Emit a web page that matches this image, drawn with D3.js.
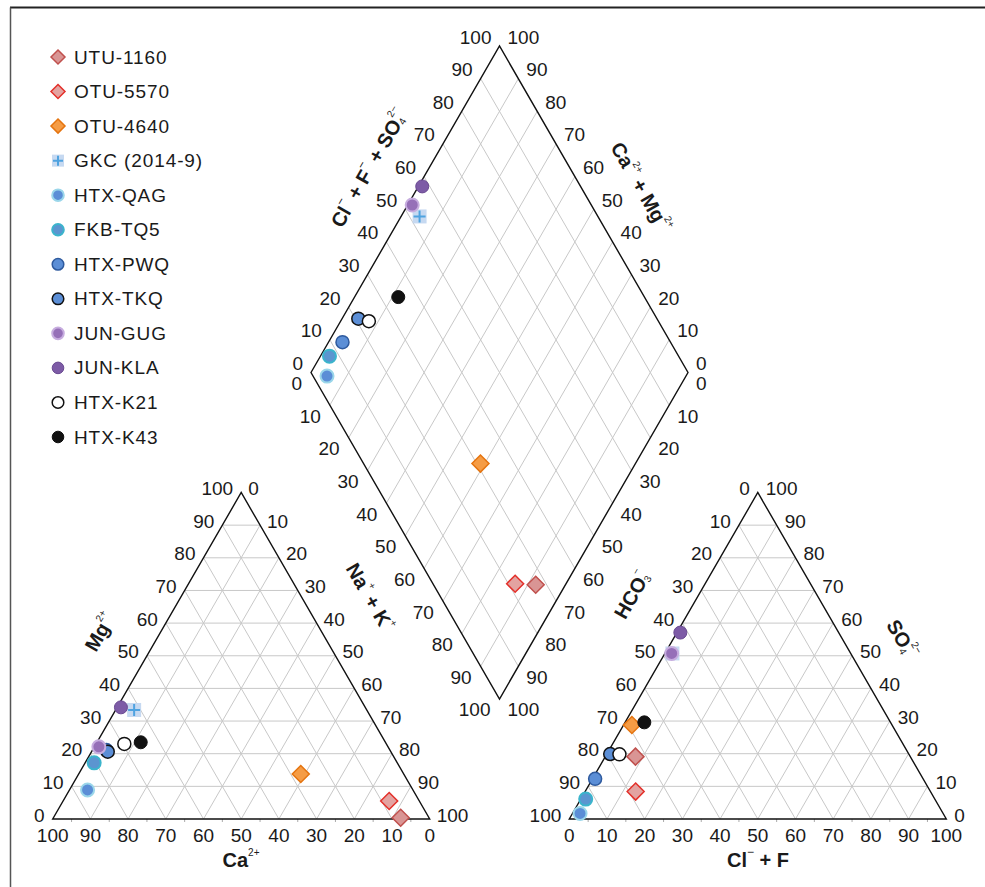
<!DOCTYPE html>
<html>
<head>
<meta charset="utf-8">
<script src="https://cdn.jsdelivr.net/npm/d3@7"></script>
<style>
  body { margin: 0; background: #fff; }
  text { font-family: "Liberation Sans", Arial, sans-serif; fill: #1a1a1a; }
</style>
</head>
<body>
<svg width="985" height="887"></svg>
<script>
// sample names (legend order = draw order)
const samples = ['UTU-1160', 'OTU-5570', 'OTU-4640', 'GKC (2014-9)', 'HTX-QAG', 'FKB-TQ5',
    'HTX-PWQ', 'HTX-TKQ', 'JUN-GUG', 'JUN-KLA', 'HTX-K21', 'HTX-K43']

// cations, % meq (Ca = 100 - Mg - Na+K)
const mgPct  = [0.4, 5.5, 13.8, 33.4, 8.9, 17.2, 21.1, 20.6, 22.1, 34.2, 23.0, 23.5]
const naKPct = [92.1, 86.5, 58.9, 4.9, 4.8, 2.4, 3.7, 4.3, 1.2, 1.0, 7.5, 11.6]

// anions, % meq (HCO3 = 100 - SO4 - Cl+F)
const so4Pct = [19.1, 8.4, 28.8, 50.7, 1.7, 6.1, 12.3, 19.9, 50.7, 57.1, 19.8, 29.6]
const clFPct = [8.0, 13.4, 2.2, 2.0, 2.0, 1.3, 0.7, 0.9, 1.8, 0.9, 3.4, 5.1]

const tickValues = d3.range(0, 101, 10)
const gridValues = d3.range(10, 100, 10)
const minorValues = d3.range(5, 100, 10)

const markerStyle = {
    'UTU-1160':     { shape: 'diamond', fill: '#d99594', stroke: '#c0504d', sw: 1.5 },
    'OTU-5570':     { shape: 'diamond', fill: '#e3a3a1', stroke: '#e3302a', sw: 1.5 },
    'OTU-4640':     { shape: 'diamond', fill: '#f59c45', stroke: '#e5740f', sw: 1.5 },
    'GKC (2014-9)': { shape: 'plus',    fill: '#c6d9f1', stroke: '#4fa3e0', sw: 2 },
    'HTX-QAG':      { shape: 'circle',  fill: '#5b8ed6', stroke: '#9ad6ea', sw: 2 },
    'FKB-TQ5':      { shape: 'circle',  fill: '#5b95d0', stroke: '#3bb4cc', sw: 2 },
    'HTX-PWQ':      { shape: 'circle',  fill: '#5b8ed6', stroke: '#2e5a9e', sw: 1.5 },
    'HTX-TKQ':      { shape: 'circle',  fill: '#5b8ed6', stroke: '#111111', sw: 1.5 },
    'JUN-GUG':      { shape: 'circle',  fill: '#9670b8', stroke: '#c7addf', sw: 2 },
    'JUN-KLA':      { shape: 'circle',  fill: '#7d5ba6', stroke: '#6a4a92', sw: 1 },
    'HTX-K21':      { shape: 'circle',  fill: '#ffffff', stroke: '#111111', sw: 1.5 },
    'HTX-K43':      { shape: 'circle',  fill: '#111111', stroke: '#111111', sw: 1 }
}

const svg = d3.select('svg')

const SIDE = 377
const H = SIDE * Math.sqrt(3) / 2
const leftOrigin = { x: 52.7, y: 819 }
const rightOrigin = { x: 569.3, y: 819 }
const diaOrigin = { x: 311, y: 372.5 }

const frac = d3.scaleLinear().domain([0, 100]).range([0, 1])

// ternary and diamond projections
const cationXY = (mg, nak) => [
    leftOrigin.x + frac(nak) * SIDE + frac(mg) * SIDE / 2,
    leftOrigin.y - frac(mg) * H
]
const anionXY = (so4, cl) => [
    rightOrigin.x + frac(cl) * SIDE + frac(so4) * SIDE / 2,
    rightOrigin.y - frac(so4) * H
]
const diamondXY = (a, c) => [
    diaOrigin.x + (frac(a) + frac(c)) * SIDE / 2,
    diaOrigin.y - frac(a) * H + frac(c) * H
]

const line = d3.line()

// frame
svg.append('line').attr('x1', 10).attr('x2', 985).attr('y1', 7.5).attr('y2', 7.5)
    .attr('stroke', '#222').attr('stroke-width', 2)
svg.append('line').attr('x1', 10.5).attr('x2', 10.5).attr('y1', 7.5).attr('y2', 887)
    .attr('stroke', '#555').attr('stroke-width', 1.5)

const grid = svg.append('g').attr('stroke', '#c8c8c8').attr('stroke-width', 1).attr('fill', 'none')

// triangle grids
const triGrid = (proj) => {
    gridValues.forEach(v => {
        grid.append('path').attr('d', line([proj(v, 0), proj(v, 100 - v)]))
        grid.append('path').attr('d', line([proj(0, v), proj(100 - v, v)]))
        grid.append('path').attr('d', line([proj(0, 100 - v), proj(100 - v, 0)]))
    })
}
triGrid(cationXY)
triGrid(anionXY)

// diamond grid
gridValues.forEach(v => {
    grid.append('path').attr('d', line([diamondXY(v, 0), diamondXY(v, 100)]))
    grid.append('path').attr('d', line([diamondXY(0, v), diamondXY(100, v)]))
})

// minor ticks on bases
const ticks = svg.append('g').attr('stroke', '#aaa').attr('stroke-width', 1)
minorValues.forEach(v => {
    ;[cationXY(0, v), anionXY(0, v)].forEach(p => {
        ticks.append('line').attr('x1', p[0]).attr('x2', p[0]).attr('y1', p[1]).attr('y2', p[1] + 3)
    })
})

// outlines
const outline = svg.append('g').attr('stroke', '#111').attr('stroke-width', 1.4).attr('fill', 'none')
outline.append('path').attr('d', line([cationXY(0, 0), cationXY(0, 100), cationXY(100, 0)]) + 'Z')
outline.append('path').attr('d', line([anionXY(0, 0), anionXY(0, 100), anionXY(100, 0)]) + 'Z')
outline.append('path').attr('d', line([diamondXY(0, 0), diamondXY(100, 0), diamondXY(100, 100), diamondXY(0, 100)]) + 'Z')

// tick labels
const labels = svg.append('g').attr('font-size', 19)
const edgeLabels = (posFn, anchor, dx, dy) => {
    tickValues.forEach(v => {
        const p = posFn(v)
        labels.append('text')
            .attr('x', p[0] + dx).attr('y', p[1] + dy)
            .attr('text-anchor', anchor)
            .attr('dominant-baseline', 'central')
            .text(v)
    })
}
// left triangle
edgeLabels(v => cationXY(0, 100 - v), 'middle', 0, 16)     // Ca
edgeLabels(v => cationXY(v, 0), 'end', -8, -4)              // Mg
edgeLabels(v => cationXY(100 - v, v), 'start', 7, -4)       // Na+K
// right triangle
edgeLabels(v => anionXY(0, v), 'middle', 0, 16)             // Cl+F
edgeLabels(v => anionXY(100 - v, 0), 'end', -8, -4)         // HCO3
edgeLabels(v => anionXY(v, 100 - v), 'start', 8, -4)        // SO4
// diamond
edgeLabels(v => diamondXY(v, 0), 'end', -8, -9)             // Cl+F+SO4
edgeLabels(v => diamondXY(100, 100 - v), 'start', 8, -9)    // Ca+Mg
edgeLabels(v => diamondXY(0, v), 'end', -9, 11)             // Na+K
edgeLabels(v => diamondXY(100 - v, 100), 'start', 8, 11)    // HCO3

// axis titles
const titles = svg.append('g').attr('font-size', 20).attr('font-weight', 'bold')
const title = (x, y, rot, parts) => {
    const t = titles.append('text')
        .attr('transform', `translate(${x},${y}) rotate(${rot})`)
        .attr('text-anchor', 'middle')
        .attr('dominant-baseline', 'central')
    parts.forEach(p => {
        const s = t.append('tspan').text(p.t)
        if (p.fs) s.attr('font-size', p.fs).attr('font-weight', 'normal')
        if (p.dy) s.attr('dy', p.dy)
        if (p.dx) s.attr('dx', p.dx)
    })
}
title(241, 860, 0, [{ t: 'Ca' }, { t: '2+', fs: 10, dy: -8 }])
title(758, 860, 0, [{ t: 'Cl' }, { t: '−', fs: 12, dy: -8 }, { t: ' + F', dy: 8 }])
title(100, 632, -60, [{ t: 'Mg' }, { t: '2+', fs: 10, dy: -8 }])
title(370, 597, 60, [{ t: 'Na' }, { t: '+', fs: 10, dy: -8 }, { t: ' + K', dy: 8 }, { t: '+', fs: 10, dy: -8 }])
title(632, 595, -60, [{ t: 'HCO' }, { t: '3', fs: 10, dy: 5 }, { t: '−', fs: 10, dx: -5, dy: -14 }])
title(902, 639, 60, [{ t: 'SO' }, { t: '4', fs: 10, dy: 5 }, { t: '2−', fs: 10, dx: -5, dy: -14 }])
title(369, 168, -60, [{ t: 'Cl' }, { t: '−', fs: 12, dy: -8 }, { t: ' + F', dy: 8 }, { t: '−', fs: 12, dy: -8 },
    { t: ' + SO', dy: 8 }, { t: '4', fs: 10, dy: 5 }, { t: '2−', fs: 10, dx: -5, dy: -14 }])
title(641, 187, 60, [{ t: 'Ca' }, { t: '2+', fs: 10, dy: -8 }, { t: ' + Mg', dy: 8 }, { t: '2+', fs: 10, dy: -8 }])

// markers
const drawMarker = (g, name, x, y, big) => {
    const st = markerStyle[name]
    if (st.shape === 'diamond') {
        const r = big ? 8.5 : 7
        g.append('path')
            .attr('d', `M${x},${y - r}L${x + r},${y}L${x},${y + r}L${x - r},${y}Z`)
            .attr('fill', st.fill).attr('stroke', st.stroke).attr('stroke-width', st.sw)
    } else if (st.shape === 'plus') {
        const r = big ? 7 : 6
        g.append('rect').attr('x', x - r).attr('y', y - r).attr('width', 2 * r).attr('height', 2 * r)
            .attr('fill', st.fill)
        g.append('path')
            .attr('d', `M${x - r + 1},${y}H${x + r - 1}M${x},${y - r + 1}V${y + r - 1}`)
            .attr('stroke', st.stroke).attr('stroke-width', st.sw)
    } else {
        g.append('circle').attr('cx', x).attr('cy', y).attr('r', big ? 6.5 : 5.8)
            .attr('fill', st.fill).attr('stroke', st.stroke).attr('stroke-width', st.sw)
    }
}

const points = svg.append('g')
samples.forEach((name, i) => {
    const cation = cationXY(mgPct[i], naKPct[i])
    const anion = anionXY(so4Pct[i], clFPct[i])
    const dia = diamondXY(so4Pct[i] + clFPct[i], naKPct[i])
    ;[cation, anion, dia].forEach(p => drawMarker(points, name, p[0], p[1], true))
})

// legend
const legend = svg.append('g')
const legendY = d3.scaleLinear().domain([0, 11]).range([57, 437])
samples.forEach((name, i) => {
    const y = legendY(i)
    drawMarker(legend, name, 58, y, false)
    legend.append('text').attr('x', 74).attr('y', y).attr('dominant-baseline', 'central')
        .attr('font-size', 19).attr('letter-spacing', 0.9).text(name)
})
</script>
</body>
</html>
